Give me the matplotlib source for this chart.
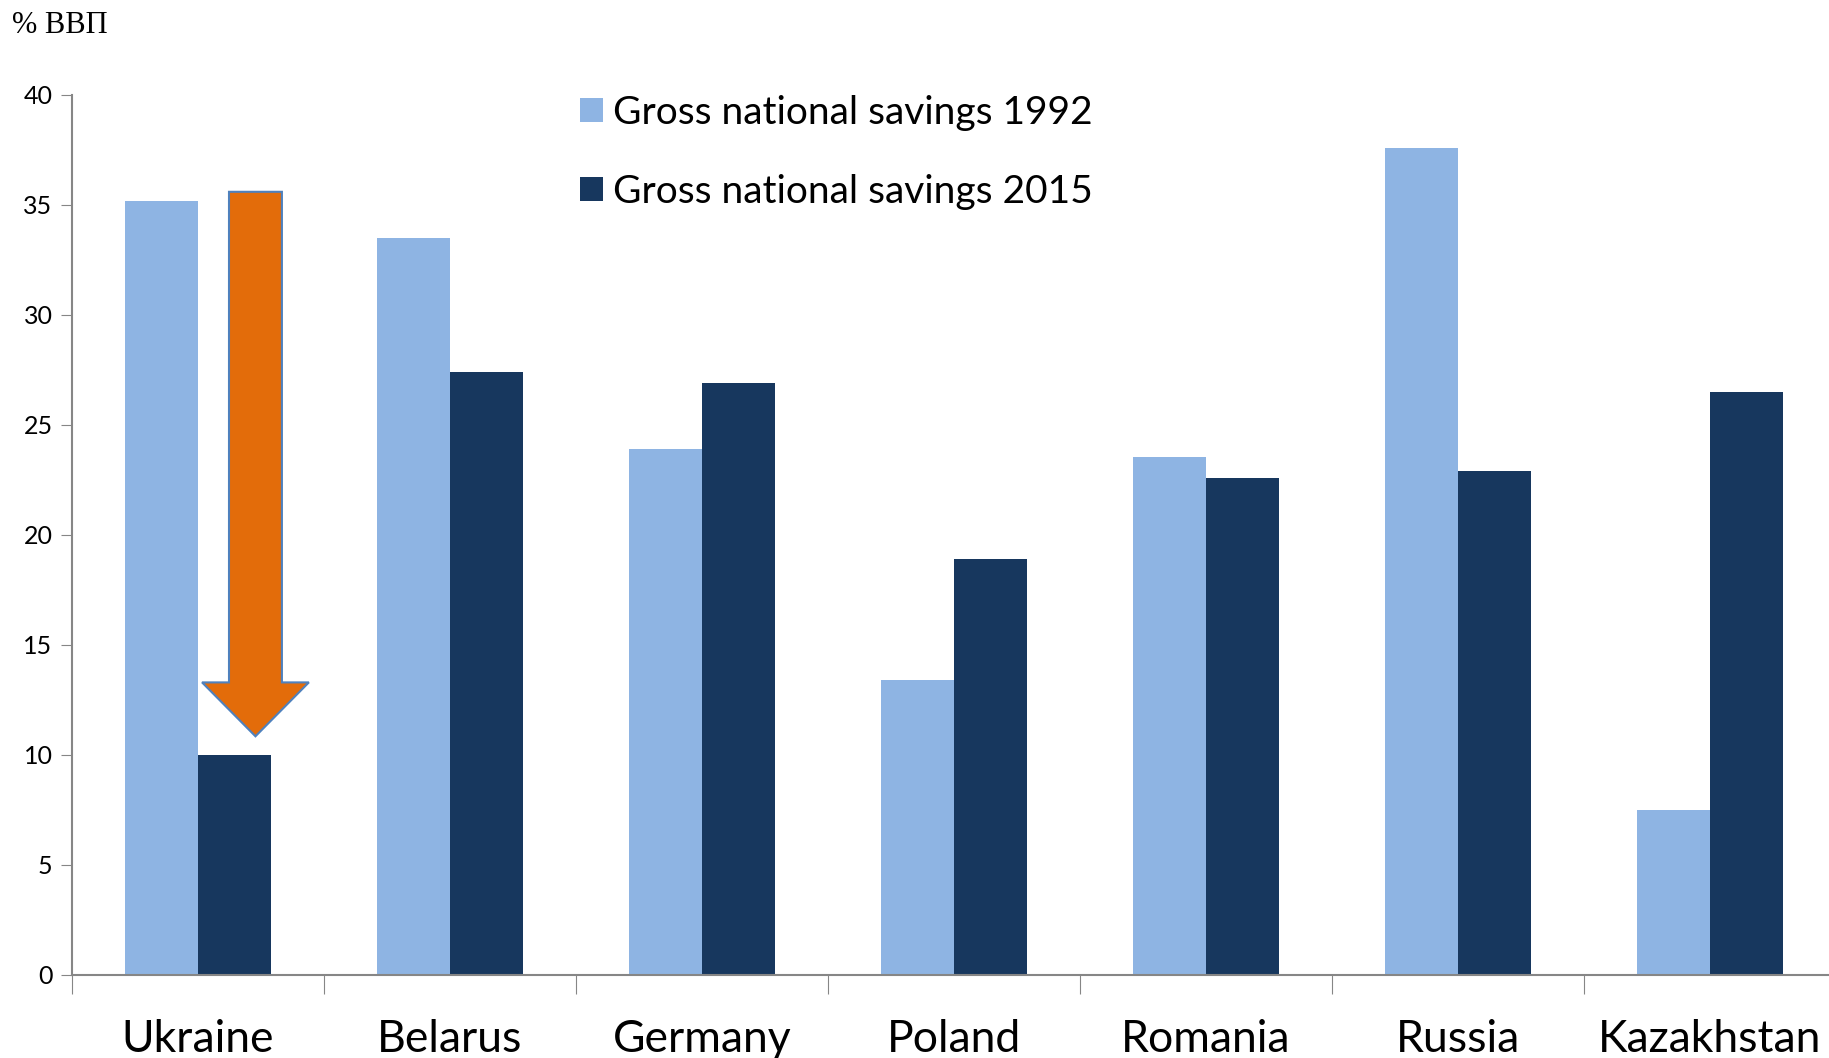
#!/usr/bin/env python3
# -*- coding: utf-8 -*-

import numpy as np
import matplotlib
matplotlib.use('Agg')
import matplotlib.pyplot as plt
from matplotlib.patches import Polygon

countries = ['Ukraine', 'Belarus', 'Germany', 'Poland', 'Romania', 'Russia', 'Kazakhstan']
savings_1992 = [35.2, 33.5, 23.9, 13.4, 23.55, 37.6, 7.5]
savings_2015 = [10.0, 27.4, 26.9, 18.9, 22.6, 22.9, 26.5]
labels = ['Gross national savings 1992', 'Gross national savings 2015']

light = '#8EB4E3'
dark = '#17375E'


def main():
    plt.rcParams['font.family'] = ['Lato', 'DejaVu Sans']
    fig = plt.figure(figsize=(18.29, 10.58), dpi=100)
    ax = fig.add_axes([72 / 1829, 1 - 975 / 1058, 1764 / 1829, 880 / 1058])

    x = np.arange(len(countries))
    w = 0.2877
    ax.bar(x - w / 2, savings_1992, w, color=light, label=labels[0])
    ax.bar(x + w / 2, savings_2015, w, color=dark, label=labels[1])

    ax.set_xlim(-0.5, len(countries) - 0.5)
    ax.set_ylim(0, 40)
    ax.set_yticks(np.arange(0, 41, 5))
    ax.tick_params(axis='y', labelsize=18, length=8, color='#868686', pad=6)

    # category ticks sit between groups
    ax.set_xticks(np.arange(-0.5, len(countries), 1.0))
    ax.set_xticklabels([])
    ax.tick_params(axis='x', length=14, color='#868686')
    for i, c in enumerate(countries):
        ax.text(i, -3.5, c, ha='center', va='baseline', fontsize=32,
                clip_on=False)

    for s in ['top', 'right']:
        ax.spines[s].set_visible(False)
    for s in ['left', 'bottom']:
        ax.spines[s].set_color('#868686')
        ax.spines[s].set_linewidth(1.5)

    # orange arrow over Ukraine
    cx = 0.228
    arrow = Polygon([(cx - 0.105, 35.6), (cx + 0.105, 35.6), (cx + 0.105, 13.3),
                     (cx + 0.212, 13.3), (cx, 10.85), (cx - 0.212, 13.3),
                     (cx - 0.105, 13.3)], closed=True,
                    facecolor='#E36C0A', edgecolor='#4F81BD', linewidth=1.5,
                    zorder=5)
    ax.add_patch(arrow)

    ax.legend(loc='upper left', bbox_to_anchor=(0.268, 1.04), frameon=False,
              fontsize=28, handlelength=0.6, handleheight=0.6,
              handletextpad=0.25, labelspacing=1.1)

    fig.text(12 / 1829, 1 - 33 / 1058, '% ВВП', fontsize=22,
             family='Liberation Serif', ha='left', va='baseline')

    fig.savefig('out.png', dpi=100)


if __name__ == '__main__':
    main()
